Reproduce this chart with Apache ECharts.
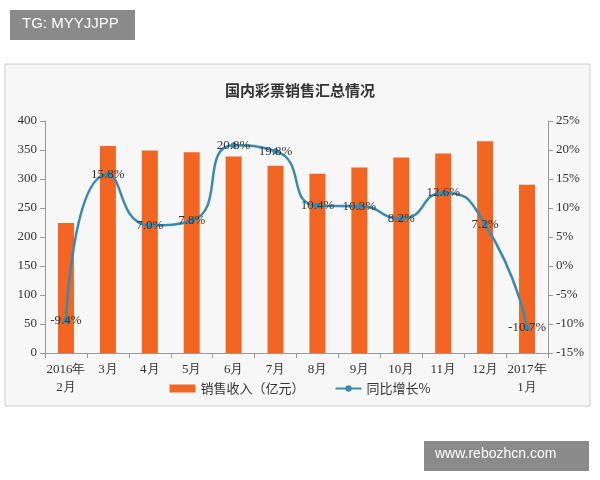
<!DOCTYPE html><html><head><meta charset="utf-8"><script src="https://cdn.jsdelivr.net/npm/echarts@6/dist/echarts.min.js"></script></head><body style="margin:0;background:#fff"><div id="c" style="width:600px;height:480px"></div><script>
const categories=['2016年\n2月','3月','4月','5月','6月','7月','8月','9月','10月','11月','12月','2017年\n1月'];
const sales=[224,357,349,346,339,323,309,320,337,344,365,290];
const growth=[-9.4,15.8,7.0,7.8,20.8,19.8,10.4,10.3,8.2,12.6,7.2,-10.7];
const c=echarts.init(document.getElementById('c'));
const f='"Noto Sans CJK SC",sans-serif';
c.setOption({backgroundColor:'#fff',animation:false,
graphic:[{type:'rect',shape:{x:5,y:64,width:585,height:342},style:{fill:'#f7f7f7',stroke:'#ccc'},z:-10},
{type:'rect',shape:{x:10,y:10,width:125,height:30},style:{fill:'#8a8a8a'}},
{type:'text',left:22,top:16,style:{text:'TG: MYYJJPP',fill:'#fff',font:'15px sans-serif'}},
{type:'rect',shape:{x:424,y:441,width:165,height:30},style:{fill:'#8a8a8a'}},
{type:'text',left:435,top:447,style:{text:'www.rebozhcn.com',fill:'#fff',font:'14px sans-serif'}}],
title:{text:'国内彩票销售汇总情况',left:'center',top:78,textStyle:{fontFamily:f,fontSize:15,fontWeight:'bold',color:'#333'}},
legend:{bottom:80,itemGap:30,textStyle:{fontFamily:f,fontSize:13,color:'#333'},data:[{name:'销售收入（亿元）',icon:'rect'},{name:'同比增长%'}],itemWidth:26,itemHeight:8},
grid:{left:45,right:52,top:121,bottom:127},
xAxis:{type:'category',data:categories,axisTick:{show:true,alignWithLabel:false,lineStyle:{color:'#999'}},axisLine:{lineStyle:{color:'#999'}},axisLabel:{color:'#333',fontFamily:'"Liberation Serif",serif',fontSize:13,interval:0,lineHeight:18}},
yAxis:[{type:'value',min:0,max:400,interval:50,splitLine:{show:false},axisLine:{show:true,lineStyle:{color:'#999'}},axisTick:{show:true},axisLabel:{color:'#333',fontFamily:'"Liberation Serif",serif',fontSize:13}},
{type:'value',min:-15,max:25,interval:5,splitLine:{show:false},axisLine:{show:true,lineStyle:{color:'#999'}},axisTick:{show:true},axisLabel:{formatter:'{value}%',color:'#333',fontFamily:'"Liberation Serif",serif',fontSize:13}}],
series:[{name:'销售收入（亿元）',type:'bar',data:sales,barWidth:16,itemStyle:{color:'#f26522'}},
{name:'同比增长%',type:'line',yAxisIndex:1,data:growth,smooth:0.6,symbol:'circle',symbolSize:6,lineStyle:{color:'#3a8ab0',width:2.5},itemStyle:{color:'#3a8ab0'},label:{show:true,formatter:p=>p.value.toFixed(1)+'%',color:'#333',fontFamily:'"Liberation Serif",serif',fontSize:13,position:'inside'}}]});
</script></body></html>
